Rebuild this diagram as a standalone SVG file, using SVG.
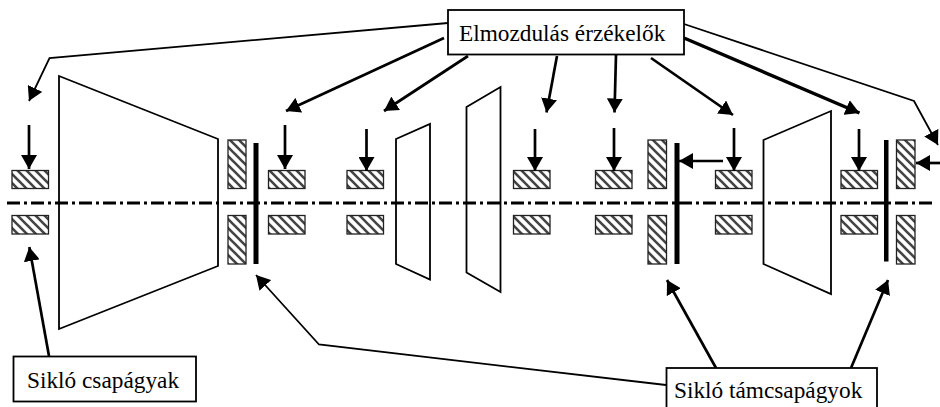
<svg xmlns="http://www.w3.org/2000/svg" width="940" height="407" viewBox="0 0 940 407">
<style>
.l{fill:none;stroke:#000;stroke-width:1.8;marker-end:url(#h)}
.a{fill:none;stroke:#000;stroke-width:2.7;marker-end:url(#h)}
.w{fill:none;stroke:#000;stroke-width:3.4;marker-end:url(#h)}
.t{fill:none;stroke:#000;stroke-width:1.8;stroke-linejoin:miter}
.b{fill:url(#p);stroke:#222;stroke-width:1.3}
.d{fill:#000}
.c{fill:#fff;stroke:#000;stroke-width:1.8}
text{font-family:"Liberation Serif","Times New Roman",serif;font-size:23.3px;fill:#000}
</style>
<defs>
<marker id="h" viewBox="0 0 14 16" refX="14" refY="8" markerUnits="userSpaceOnUse" markerWidth="14" markerHeight="16" orient="auto"><path d="M0 0L14 8L0 16z"/></marker>
<pattern id="p" width="9" height="9" patternUnits="userSpaceOnUse"><rect width="9" height="9" fill="#fff"/><path d="M-3 -3L12 12M-3 6L3 12M6 -3L12 3" stroke="#444" stroke-width="2.6"/></pattern>
</defs>
<g id="shaft"><path d="M7 203H935" stroke="#000" stroke-width="3" stroke-dasharray="13 4 3 4" fill="none"/></g>
<g id="turbine-1"><path class="t" d="M59 76L218 139V266L59 329z"/></g>
<g id="turbine-2"><path class="t" d="M396 139L430 124V279.500L396 264z"/></g>
<g id="turbine-3"><path class="t" d="M466.500 107L500.500 87V292L466.500 272.500z"/></g>
<g id="turbine-4"><path class="t" d="M763.500 140L831 111V294L763.500 264z"/></g>
<g id="journal-bearings">
<rect class="b" x="12" y="170.500" width="36.500" height="18"/><rect class="b" x="12" y="215.500" width="36.500" height="18.500"/>
<rect class="b" x="268.500" y="170.500" width="36.500" height="18"/><rect class="b" x="268.500" y="215.500" width="36.500" height="18.500"/>
<rect class="b" x="347" y="170.500" width="36.500" height="18"/><rect class="b" x="347" y="215.500" width="36.500" height="18.500"/>
<rect class="b" x="513.500" y="170.500" width="36.500" height="18"/><rect class="b" x="513.500" y="215.500" width="36.500" height="18.500"/>
<rect class="b" x="595.500" y="170.500" width="36.500" height="18"/><rect class="b" x="595.500" y="215.500" width="36.500" height="18.500"/>
<rect class="b" x="715.500" y="170.500" width="36.500" height="18"/><rect class="b" x="715.500" y="215.500" width="36.500" height="18.500"/>
<rect class="b" x="841" y="170.500" width="36.500" height="18"/><rect class="b" x="841" y="215.500" width="36.500" height="18.500"/>
</g>
<g id="thrust-bearings">
<rect class="b" x="228" y="140" width="18" height="48.500"/><rect class="b" x="228" y="215.500" width="18" height="48.500"/>
<rect class="b" x="648" y="140" width="18.500" height="48.500"/><rect class="b" x="648" y="215.500" width="18.500" height="48.500"/>
<rect class="b" x="896.500" y="140" width="18.500" height="48.500"/><rect class="b" x="896.500" y="215.500" width="18.500" height="48.500"/>
<rect class="d" x="253.500" y="143" width="5" height="121"/>
<rect class="d" x="674.500" y="143" width="5" height="121"/>
<rect class="d" x="884" y="140" width="4.500" height="121.500"/>
</g>
<g id="connectors">
<path class="a" d="M29 125V169"/><path class="a" d="M285 125V169"/><path class="a" d="M366.500 129V171"/><path class="a" d="M535 129V171"/><path class="a" d="M614 128V171"/><path class="a" d="M734 128V171"/><path class="a" d="M859 129V171"/>
<path class="a" d="M723 161H679"/><path class="a" d="M940 163H916"/>
<path class="l" d="M448 23L49.500 58L29 101"/>
<path class="a" d="M444 38L286 111"/>
<path class="a" d="M468 56L384 111"/>
<path class="a" d="M557 56L546.500 112.500"/>
<path class="a" d="M616 55L614.500 112.500"/>
<path class="a" d="M651 58L733 115"/>
<path class="w" d="M684 38L859.500 113"/>
<path class="l" d="M684 24L914 101L938 145"/>
<path class="a" d="M49 356L29.300 247"/>
<path class="l" d="M666 385L319 344.500L256 275"/>
<path class="a" d="M716 368L667 280"/>
<path class="a" d="M851 368L888 280"/>
</g>
<g id="label-sensors"><rect class="c" x="448" y="10" width="236" height="44.500"/><text x="459" y="41">Elmozdulás érzékelők</text></g>
<g id="label-journal"><rect class="c" x="13.500" y="356.500" width="182.500" height="45"/><text x="27" y="388">Sikló csapágyak</text></g>
<g id="label-thrust"><rect class="c" x="666.500" y="368" width="210.500" height="45"/><text x="674" y="398">Sikló támcsapágyok</text></g>
</svg>
